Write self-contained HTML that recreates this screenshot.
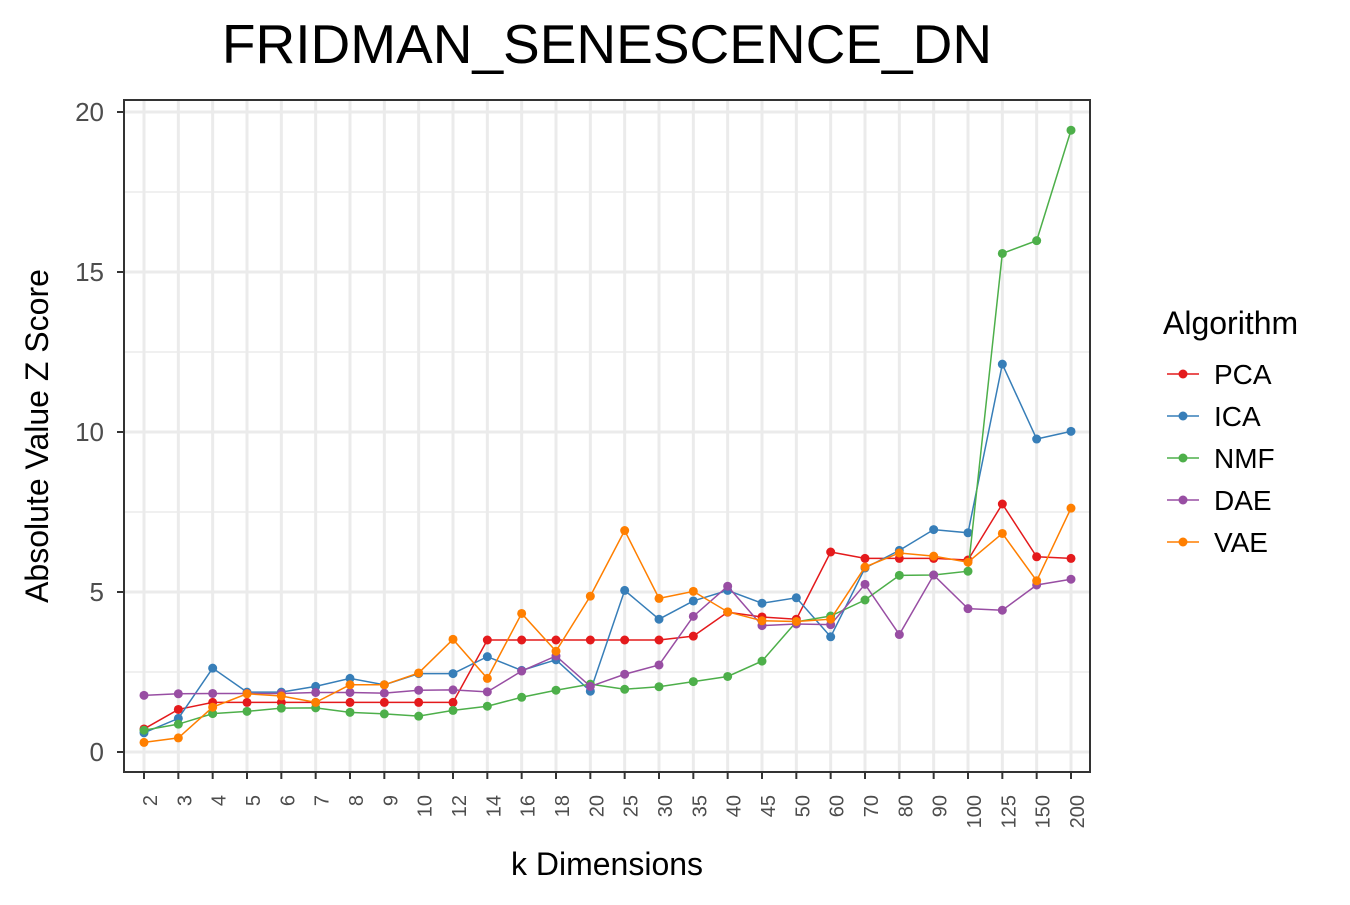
<!DOCTYPE html>
<html><head><meta charset="utf-8"><style>
body{margin:0;background:#fff;font-family:"Liberation Sans",Arial,sans-serif}
svg text{font-family:"Liberation Sans",Arial,sans-serif}
</style></head><body>
<svg id="chart" width="1350" height="900">
<text x="607" y="63" text-anchor="middle" font-size="55" fill="#000">FRIDMAN_SENESCENCE_DN</text>
<g id="grid"></g>
<g id="marks"></g>
<rect x="124" y="100" width="966" height="672" fill="none" stroke="#333" stroke-width="2"/>
<g id="axes"></g>
<text x="607" y="875" text-anchor="middle" font-size="32">k Dimensions</text>
<text transform="translate(48,436) rotate(-90)" text-anchor="middle" font-size="32">Absolute Value Z Score</text>
<text x="1163" y="334" font-size="32">Algorithm</text>
<g id="legend"></g>
</svg>
<script>
const categories=["2","3","4","5","6","7","8","9","10","12","14","16","18","20","25","30","35","40","45","50","60","70","80","90","100","125","150","200"];
const pca=[0.72,1.33,1.55,1.55,1.55,1.55,1.55,1.55,1.55,1.55,3.5,3.5,3.5,3.5,3.5,3.5,3.62,4.37,4.22,4.15,6.25,6.05,6.05,6.05,6.0,7.75,6.1,6.05];
const ica=[0.6,1.05,2.62,1.87,1.87,2.05,2.3,2.1,2.45,2.45,2.98,2.55,2.88,1.9,5.05,4.15,4.72,5.05,4.65,4.82,3.6,5.75,6.3,6.95,6.85,12.12,9.78,10.02];
const nmf=[0.68,0.87,1.2,1.27,1.37,1.38,1.24,1.19,1.12,1.3,1.43,1.71,1.93,2.12,1.96,2.04,2.2,2.36,2.84,4.07,4.25,4.75,5.52,5.53,5.65,15.58,15.98,19.43];
const dae=[1.77,1.82,1.83,1.83,1.83,1.86,1.86,1.84,1.93,1.94,1.88,2.53,3.0,2.05,2.43,2.72,4.24,5.18,3.95,4.0,3.98,5.24,3.67,5.53,4.48,4.43,5.22,5.4];
const vae=[0.3,0.44,1.4,1.82,1.75,1.55,2.1,2.1,2.47,3.52,2.3,4.33,3.15,4.87,6.92,4.8,5.02,4.38,4.1,4.08,4.15,5.78,6.22,6.12,5.93,6.83,5.35,7.62];
const yTicks=[0,5,10,15,20];
const seriesNames=["PCA","ICA","NMF","DAE","VAE"];
const seriesColors=["#E41A1C","#377EB8","#4DAF4A","#984EA3","#FF7F00"];
const seriesData=[pca,ica,nmf,dae,vae];

const NS="http://www.w3.org/2000/svg";
function xs(i){return 144+i*(1071-144)/(categories.length-1);}
function ys(v){return 752-v*32;}
function mk(tag,attrs,parent){const e=document.createElementNS(NS,tag);for(const k in attrs)e.setAttribute(k,attrs[k]);parent.appendChild(e);return e;}
const grid=document.getElementById('grid'),marks=document.getElementById('marks'),axes=document.getElementById('axes'),legend=document.getElementById('legend');
for(let v=-2.5;v<=22.5;v+=2.5){const y=ys(v);if(y<100||y>772)continue;
 const major=(v%5===0);
 const l=mk('line',{x1:124,x2:1090,y1:y,y2:y,stroke:'#ebebeb','stroke-width':major?3:1.5},grid);
 
 }
categories.forEach((c,i)=>{const x=xs(i);
 const l=mk('line',{x1:x,x2:x,y1:100,y2:772,stroke:'#ebebeb','stroke-width':3},grid);
 
 
 const t=mk('line',{x1:x,x2:x,y1:772,y2:779,stroke:'#333','stroke-width':2},axes);
 
 
 const tx=mk('text',{transform:`translate(${x+13},795) rotate(-90)`,'text-anchor':'end','font-size':20,fill:'#4d4d4d'},axes);
 tx.textContent=c;
 
 });
yTicks.forEach(v=>{const y=ys(v);
 const t=mk('line',{x1:117,x2:124,y1:y,y2:y,stroke:'#333','stroke-width':2},axes);
 
 
 const tx=mk('text',{x:104,y:y+9,'text-anchor':'end','font-size':26,fill:'#4d4d4d'},axes);
 tx.textContent=v;
 
 });
seriesData.forEach((d,s)=>{const col=seriesColors[s];
 const p=mk('polyline',{points:d.map((v,i)=>xs(i)+','+ys(v)).join(' '),fill:'none',stroke:col,'stroke-width':1.5},marks);
 
 
 d.forEach((v,i)=>{const c=mk('circle',{cx:xs(i),cy:ys(v),r:4.5,fill:col},marks);
  
  });
 const ly=374+s*42;
 const g=mk('g',{},legend);
 
 
 mk('line',{x1:1167,x2:1199,y1:ly,y2:ly,stroke:col,'stroke-width':1.5},g);
 mk('circle',{cx:1183,cy:ly,r:4.5,fill:col},g);
 const t=mk('text',{x:1214,y:ly+10,'font-size':28},g);t.textContent=seriesNames[s];});
</script>
</body></html>
